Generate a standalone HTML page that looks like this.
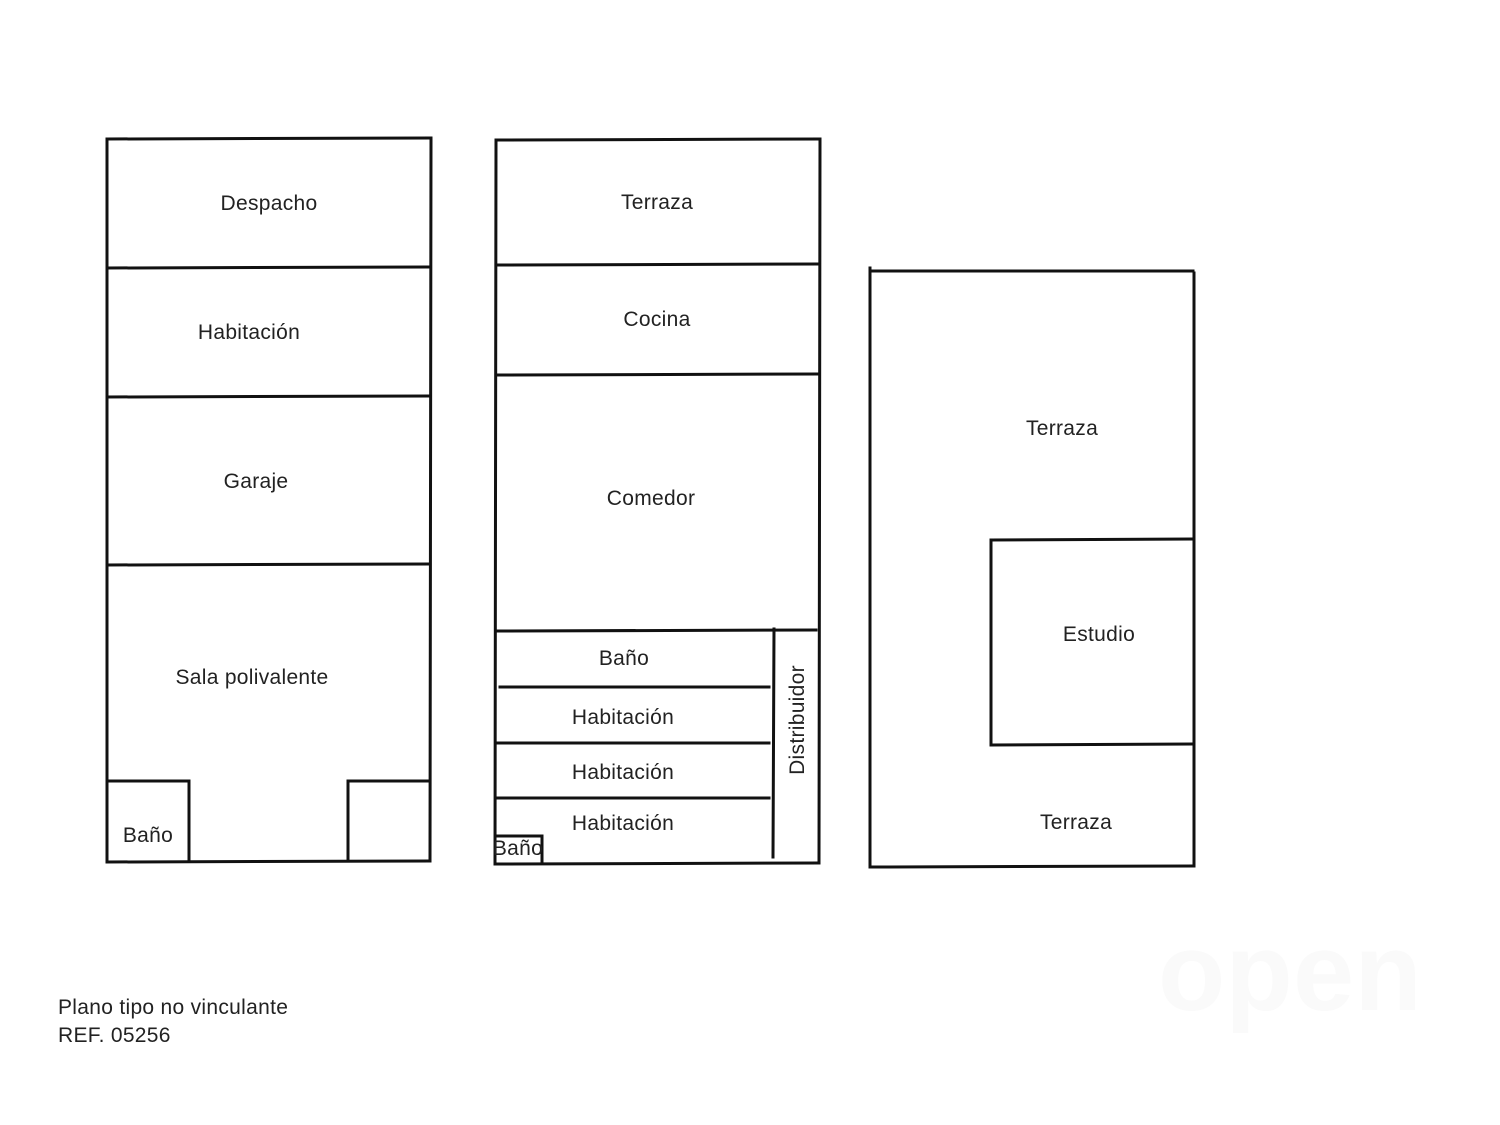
<!DOCTYPE html>
<html><head><meta charset="utf-8"><style>
html,body{margin:0;padding:0;background:#fff;}
svg{display:block;}
text{font-family:"Liberation Sans","DejaVu Sans",sans-serif;font-size:21px;fill:#222;letter-spacing:0.3px;}
</style></head><body>
<svg width="1500" height="1125" viewBox="0 0 1500 1125" xmlns="http://www.w3.org/2000/svg">
<g stroke="#111" stroke-width="3" fill="none" stroke-linecap="square">
<line x1="107" y1="139" x2="431" y2="138"/>
<line x1="107" y1="139" x2="107" y2="862"/>
<line x1="431" y1="138" x2="430" y2="861"/>
<line x1="107" y1="862" x2="430" y2="861"/>
<line x1="107" y1="268" x2="428" y2="267"/>
<line x1="107" y1="397" x2="430" y2="396"/>
<line x1="107" y1="565" x2="430" y2="564"/>
<line x1="107" y1="781" x2="189" y2="781"/>
<line x1="189" y1="781" x2="189" y2="861"/>
<line x1="348" y1="781" x2="430" y2="781"/>
<line x1="348" y1="781" x2="348" y2="861"/>
<line x1="496" y1="140" x2="820" y2="139"/>
<line x1="496" y1="140" x2="495" y2="864"/>
<line x1="820" y1="139" x2="819" y2="863"/>
<line x1="495" y1="864" x2="819" y2="863"/>
<line x1="496" y1="265" x2="819" y2="264"/>
<line x1="496" y1="375" x2="819" y2="374"/>
<line x1="496" y1="631" x2="816" y2="630"/>
<line x1="774" y1="629" x2="773" y2="857"/>
<line x1="500" y1="687" x2="769" y2="687"/>
<line x1="496" y1="743" x2="769" y2="743"/>
<line x1="496" y1="798" x2="769" y2="798"/>
<line x1="496" y1="836" x2="542" y2="836"/>
<line x1="542" y1="836" x2="542" y2="863"/>
<line x1="870" y1="271" x2="1193" y2="271"/>
<line x1="870" y1="268" x2="870" y2="867"/>
<line x1="1194" y1="273" x2="1194" y2="866"/>
<line x1="870" y1="867" x2="1194" y2="866"/>
<line x1="991" y1="540" x2="1192" y2="539"/>
<line x1="991" y1="540" x2="991" y2="745"/>
<line x1="991" y1="745" x2="1192" y2="744"/>
</g>
<text x="269" y="210" text-anchor="middle">Despacho</text>
<text x="249" y="339" text-anchor="middle">Habitación</text>
<text x="256" y="488" text-anchor="middle">Garaje</text>
<text x="252" y="684" text-anchor="middle">Sala polivalente</text>
<text x="148" y="842" text-anchor="middle">Baño</text>
<text x="657" y="209" text-anchor="middle">Terraza</text>
<text x="657" y="326" text-anchor="middle">Cocina</text>
<text x="651" y="505" text-anchor="middle">Comedor</text>
<text x="624" y="665" text-anchor="middle">Baño</text>
<text x="623" y="724" text-anchor="middle">Habitación</text>
<text x="623" y="779" text-anchor="middle">Habitación</text>
<text x="623" y="830" text-anchor="middle">Habitación</text>
<text x="518" y="855" text-anchor="middle">Baño</text>
<text transform="translate(804,720) rotate(-90)" text-anchor="middle">Distribuidor</text>
<text x="1062" y="435" text-anchor="middle">Terraza</text>
<text x="1099" y="641" text-anchor="middle">Estudio</text>
<text x="1076" y="829" text-anchor="middle">Terraza</text>
<text x="58" y="1014" style="font-size:21px">Plano tipo no vinculante</text>
<text x="58" y="1042" style="font-size:21px">REF. 05256</text>
<text x="1290" y="1010" text-anchor="middle" style="font-size:110px;fill:#fafafa;font-weight:bold">open</text>
</svg>
</body></html>
